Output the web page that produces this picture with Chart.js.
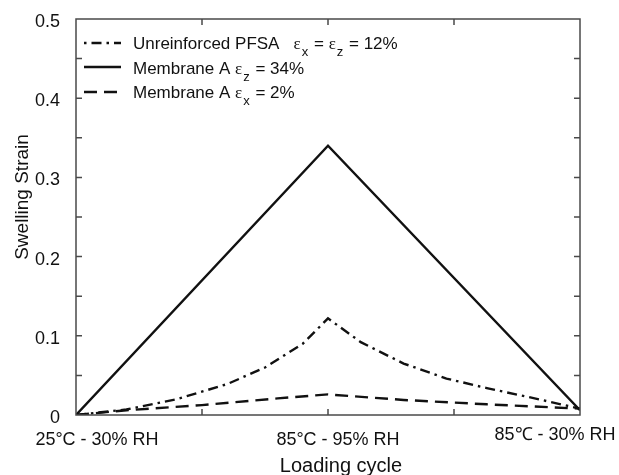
<!DOCTYPE html>
<html>
<head>
<meta charset="utf-8">
<title>Swelling Strain</title>
<script src="https://cdn.jsdelivr.net/npm/chart.js@4/dist/chart.umd.min.js"></script>
<style>
    html, body { margin: 0; padding: 0; background: #fff; }
    #wrap { width: 619px; height: 475px; position: relative; }
</style>
</head>
<body>
<div id="wrap"><canvas id="strain"></canvas></div>
<script>
// DATA
const pfsaX = [0, 0.2, 0.4, 0.6, 0.75, 0.9, 1.0, 1.13, 1.3, 1.47, 1.63, 1.82, 2.0];
const pfsaY = [0, 0.007, 0.02, 0.039, 0.06, 0.09, 0.122, 0.092, 0.065, 0.046, 0.034, 0.021, 0.008];

const memZX = [0, 1, 2];
const memZY = [0, 0.34, 0.006];

const memXX = [0, 0.2, 0.5, 0.8, 1.0, 1.3, 1.63, 2.0];
const memXY = [0, 0.006, 0.0125, 0.021, 0.026, 0.019, 0.0135, 0.008];

const xTickValues = [0, 1, 2];
const xTickLabels = ['25\u00B0C - 30% RH', '85\u00B0C - 95% RH', '85\u2103 - 30% RH'];
const yTickLabels = ['0', '0.1', '0.2', '0.3', '0.4', '0.5'];

const xTitle = 'Loading cycle';
const yTitle = 'Swelling Strain';

// legend text pieces: [text, isSubscript]
const legendPfsa = [['Unreinforced PFSA   \u03B5', 0], ['x', 1], [' = \u03B5', 0], ['z', 1], [' = 12%', 0]];
const legendMemZ = [['Membrane A \u03B5', 0], ['z', 1], [' = 34%', 0]];
const legendMemX = [['Membrane A \u03B5', 0], ['x', 1], [' = 2%', 0]];

// STYLE
const ink = '#111';
const frameColor = '#4a4a4a';
const sans = '"Liberation Sans", Arial, sans-serif';
const xLabelShift = [21, 10, -25];
const xLabelY = [440, 440, 435];

function toPoints(xs, ys) {
    return xs.map((x, i) => ({ x: x, y: ys[i] }));
}

// PLUGINS
const framePlugin = {
    id: 'frame',
    afterDatasetsDraw(chart) {
        const ctx = chart.ctx;
        const area = chart.chartArea;
        const xs = chart.scales.x;
        const ys = chart.scales.y;
        const len = 6;

        ctx.save();
        ctx.strokeStyle = frameColor;
        ctx.lineWidth = 1.5;
        ctx.strokeRect(area.left, area.top, area.right - area.left, area.bottom - area.top);

        ctx.beginPath();
        xs.ticks.forEach(t => {
            const px = xs.getPixelForValue(t.value);
            if (px <= area.left + 1 || px >= area.right - 1) return;
            ctx.moveTo(px, area.bottom);
            ctx.lineTo(px, area.bottom - len);
            ctx.moveTo(px, area.top);
            ctx.lineTo(px, area.top + len);
        });
        ys.ticks.forEach(t => {
            const py = ys.getPixelForValue(t.value);
            if (py <= area.top + 1 || py >= area.bottom - 1) return;
            ctx.moveTo(area.left, py);
            ctx.lineTo(area.left + len, py);
            ctx.moveTo(area.right, py);
            ctx.lineTo(area.right - len, py);
        });
        ctx.stroke();
        ctx.restore();
    }
};

const labelPlugin = {
    id: 'labels',
    afterDraw(chart) {
        const ctx = chart.ctx;
        const xs = chart.scales.x;
        const area = chart.chartArea;

        ctx.save();
        ctx.fillStyle = ink;
        ctx.font = '18px ' + sans;
        ctx.textAlign = 'center';
        ctx.textBaseline = 'middle';
        xTickValues.forEach((v, i) => {
            ctx.fillText(xTickLabels[i], xs.getPixelForValue(v) + xLabelShift[i], xLabelY[i]);
        });

        ctx.font = '20px ' + sans;
        ctx.textBaseline = 'alphabetic';
        ctx.fillText(xTitle, (area.left + area.right) / 2 + 13, 472);

        ctx.translate(23, 197);
        ctx.rotate(-Math.PI / 2);
        ctx.font = '19px ' + sans;
        ctx.textBaseline = 'middle';
        ctx.fillText(yTitle, 0, 0);
        ctx.restore();
    }
};

const legendPlugin = {
    id: 'customLegend',
    afterDraw(chart) {
        const ctx = chart.ctx;
        const rows = [legendPfsa, legendMemZ, legendMemX];
        const lineY = [43, 67, 92];
        const baseY = [49, 74, 98];

        ctx.save();
        rows.forEach((pieces, i) => {
            const ds = chart.data.datasets[i];
            ctx.strokeStyle = ds.borderColor;
            ctx.lineWidth = ds.borderWidth;
            ctx.setLineDash(ds.borderDash || []);
            ctx.lineDashOffset = i === 0 ? 15 : 0;
            ctx.beginPath();
            ctx.moveTo(84, lineY[i]);
            ctx.lineTo(121, lineY[i]);
            ctx.stroke();
            ctx.setLineDash([]);

            let x = 133;
            ctx.fillStyle = ink;
            ctx.textBaseline = 'alphabetic';
            ctx.textAlign = 'left';
            pieces.forEach(([text, sub]) => {
                if (sub) {
                    ctx.font = '13px ' + sans;
                    ctx.fillText(text, x + 1, baseY[i] + 7);
                    x += ctx.measureText(text).width + 2;
                } else {
                    // draw the epsilon in a serif face, the rest in sans
                    const parts = text.split('\u03B5');
                    parts.forEach((part, k) => {
                        ctx.font = '17px ' + sans;
                        ctx.fillText(part, x, baseY[i]);
                        x += ctx.measureText(part).width;
                        if (k < parts.length - 1) {
                            ctx.font = '17px "Liberation Serif", serif';
                            ctx.fillText('\u03B5', x, baseY[i]);
                            x += ctx.measureText('\u03B5').width;
                        }
                    });
                }
            });
        });
        ctx.restore();
    }
};

// CHART
const chart = new Chart(
    document.getElementById('strain'),
    {
        type: 'line',
        data: {
            datasets: [
                {
                    label: 'Unreinforced PFSA \u03B5x = \u03B5z = 12%',
                    data: toPoints(pfsaX, pfsaY),
                    borderColor: '#111',
                    borderWidth: 2.4,
                    borderDash: [10, 5, 2.5, 5],
                    pointRadius: 0,
                    tension: 0,
                    fill: false
                },
                {
                    label: 'Membrane A \u03B5z = 34%',
                    data: toPoints(memZX, memZY),
                    borderColor: '#111',
                    borderWidth: 2.4,
                    pointRadius: 0,
                    tension: 0,
                    fill: false
                },
                {
                    label: 'Membrane A \u03B5x = 2%',
                    data: toPoints(memXX, memXY),
                    borderColor: '#111',
                    borderWidth: 2.4,
                    borderDash: [13, 7],
                    pointRadius: 0,
                    tension: 0,
                    fill: false
                }
            ]
        },
        options: {
            responsive: true,
            maintainAspectRatio: false,
            animation: false,
            layout: { padding: { top: 19, right: 39, left: 0, bottom: 0 } },
            scales: {
                x: {
                    type: 'linear',
                    min: 0,
                    max: 2,
                    ticks: { display: false, stepSize: 0.5 },
                    grid: { display: false },
                    border: { display: false },
                    afterFit: function (scale) { scale.height = 60; }
                },
                y: {
                    min: 0,
                    max: 0.5,
                    ticks: {
                        stepSize: 0.05,
                        autoSkip: false,
                        padding: 8,
                        labelOffset: 3,
                        color: ink,
                        font: { family: sans, size: 18 },
                        callback: function (value) {
                            const i = Math.round(value / 0.05);
                            return i % 2 === 0 ? yTickLabels[i / 2] : '';
                        }
                    },
                    grid: { display: false },
                    border: { display: false },
                    afterFit: function (scale) { scale.width = 76; }
                }
            },
            plugins: {
                legend: { display: false },
                tooltip: { enabled: false }
            }
        },
        plugins: [framePlugin, labelPlugin, legendPlugin]
    }
);
</script>
</body>
</html>
